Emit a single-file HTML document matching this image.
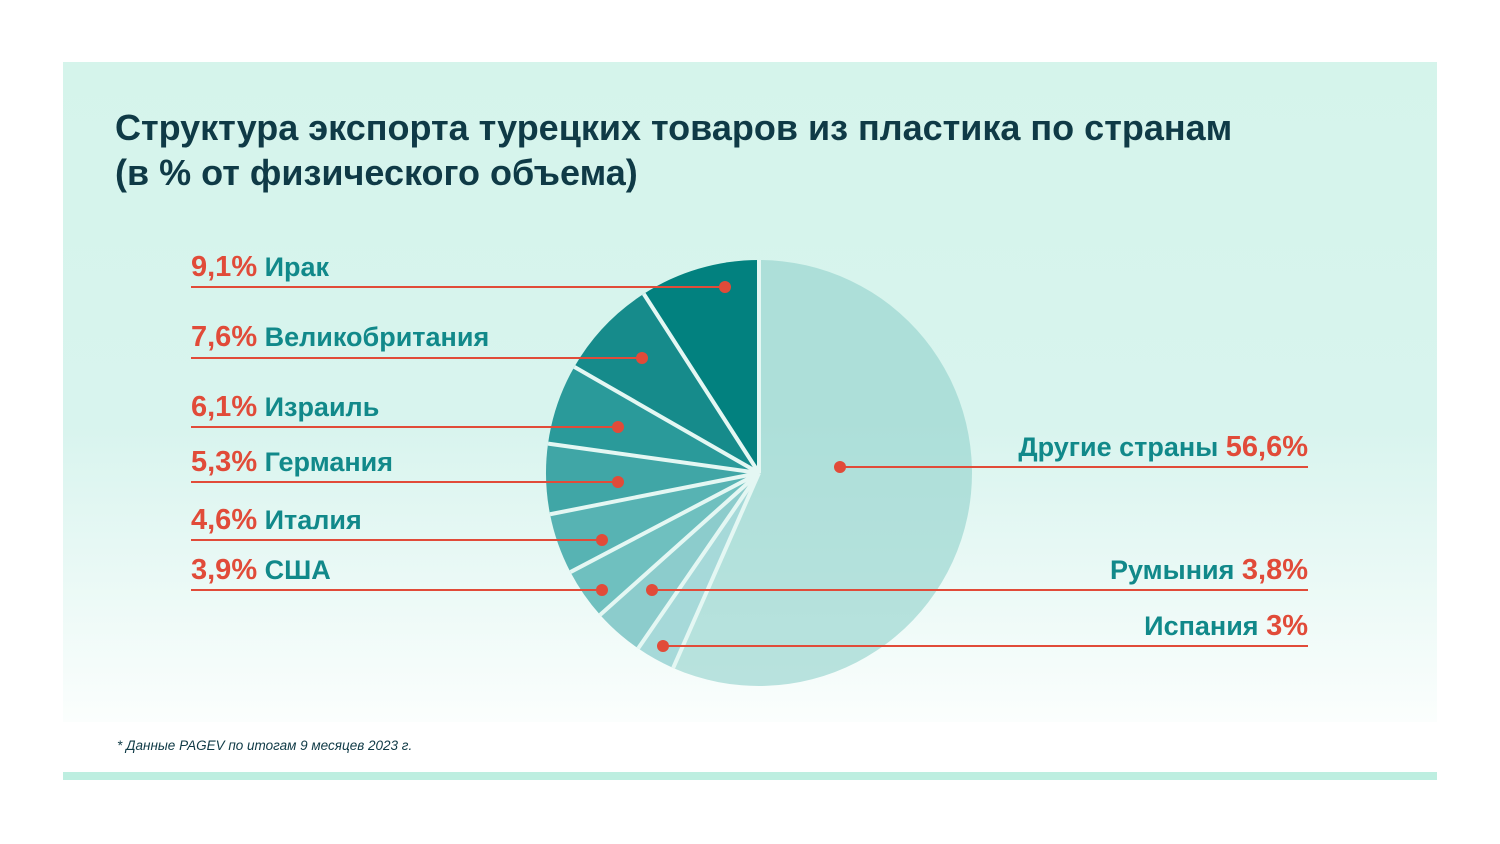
<!DOCTYPE html>
<html><head><meta charset="utf-8"><style>
body{margin:0;width:1500px;height:844px;background:#fff;font-family:"Liberation Sans",sans-serif;position:relative;overflow:hidden}
.panel{position:absolute;left:63px;top:62px;width:1374px;height:660px;background:linear-gradient(#d5f4eb 0%,#d8f4ee 55%,#fbfefd 100%)}
.bar{position:absolute;left:63px;top:772px;width:1374px;height:8px;background:#bdeee0}
h1{position:absolute;left:115px;top:105px;margin:0;font-size:36px;line-height:45px;color:#0f3a46;font-weight:bold}
.lbl{position:absolute;font-size:27px;font-weight:bold;color:#11898a;white-space:nowrap}
.lbl b{color:#e14b39;font-size:29px}
.note{position:absolute;left:117px;top:738px;font-size:13.5px;font-style:italic;color:#0f3a46}
</style></head><body>
<div class="panel"></div>
<div class="bar"></div>
<h1>Структура экспорта турецких товаров из пластика по странам<br>(в % от физического объема)</h1>
<svg id="s" width="1500" height="844" style="position:absolute;left:0;top:0"></svg>
<div class="lbl" style="left:191px;top:251px"><b>9,1%</b> Ирак</div>
<div class="lbl" style="left:191px;top:321px"><b>7,6%</b> Великобритания</div>
<div class="lbl" style="left:191px;top:391px"><b>6,1%</b> Израиль</div>
<div class="lbl" style="left:191px;top:446px"><b>5,3%</b> Германия</div>
<div class="lbl" style="left:191px;top:504px"><b>4,6%</b> Италия</div>
<div class="lbl" style="left:191px;top:554px"><b>3,9%</b> США</div>
<div class="lbl" style="right:192px;top:431px">Другие страны <b>56,6%</b></div>
<div class="lbl" style="right:192px;top:554px">Румыния <b>3,8%</b></div>
<div class="lbl" style="right:192px;top:610px">Испания <b>3%</b></div>
<div class="note">* Данные PAGEV по итогам 9 месяцев 2023 г.</div>
<script>
var s=document.getElementById('s'),cx=759,cy=473,r=213;
var d=[[56.6,'rgba(150,212,206,0.65)'],[3,'#a6d9d9'],[3.8,'#8ccccc'],[3.9,'#6fc0bf'],[4.6,'#57b3b3'],[5.3,'#40a6a6'],[6.1,'#2a9a9a'],[7.6,'#168b8b'],[9.1,'#02817f']];
var a=0,h='';
function pt(t){t=t*Math.PI/180;return (cx+r*Math.sin(t)).toFixed(2)+' '+(cy-r*Math.cos(t)).toFixed(2);}
d.forEach(function(e){var b=a+e[0]*3.6;h+='<path d="M'+cx+' '+cy+' L'+pt(a)+' A'+r+' '+r+' 0 '+(b-a>180?1:0)+' 1 '+pt(b)+' Z" fill="'+e[1]+'"/>';a=b;});
a=0;d.forEach(function(e){h+='<line x1="'+cx+'" y1="'+cy+'" x2="'+pt(a).split(' ')[0]+'" y2="'+pt(a).split(' ')[1]+'" stroke="#e4f7f3" stroke-width="4"/>';a+=e[0]*3.6;});
var L=[[191,725,287],[191,642,358],[191,618,427],[191,618,482],[191,602,540],[191,602,590],[652,1308,590],[663,1308,646],[840,1308,467]];
L.forEach(function(l){h+='<line x1="'+l[0]+'" y1="'+l[2]+'" x2="'+l[1]+'" y2="'+l[2]+'" stroke="#e14b39" stroke-width="2"/>';h+='<circle cx="'+(l[0]>600?l[0]:l[1])+'" cy="'+l[2]+'" r="6" fill="#e14b39"/>';});
s.innerHTML=h;
</script>
</body></html>
